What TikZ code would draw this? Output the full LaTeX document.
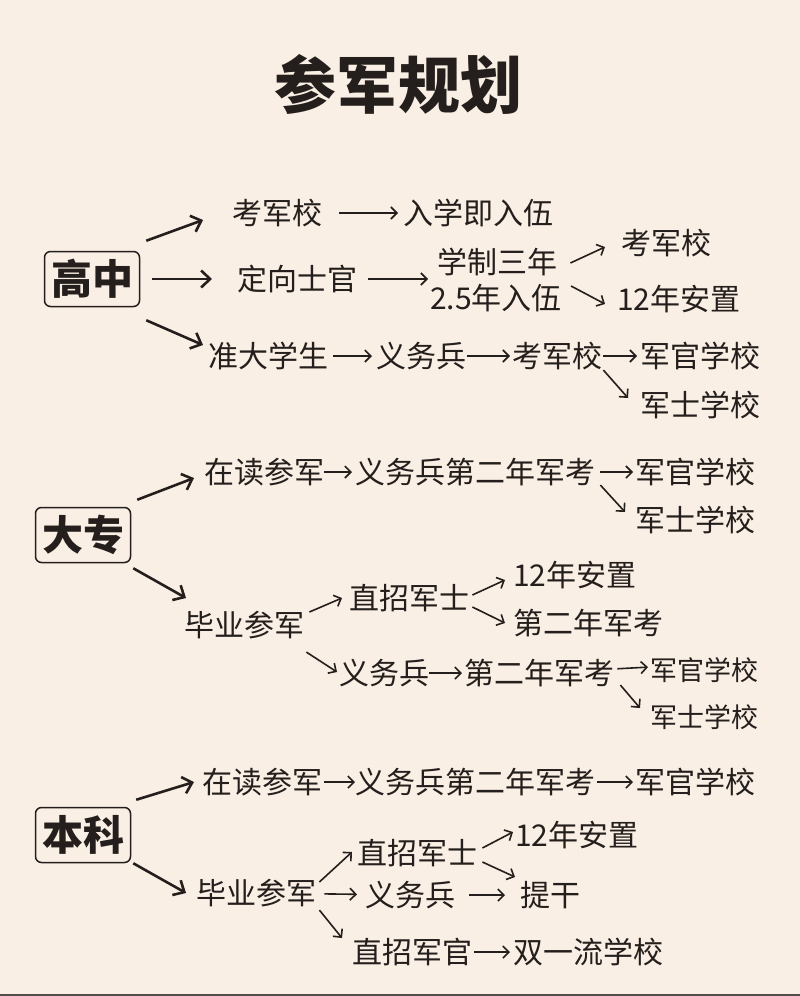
\documentclass[tikz,border=0pt]{standalone}
\usepackage{fontspec}
\usepackage{xcolor}
\usetikzlibrary{arrows.meta,positioning,calc}
\newfontfamily\cjk{Noto Sans CJK SC}
\definecolor{paper}{RGB}{250,239,229}
\definecolor{ink}{RGB}{36,31,28}

\begin{document}
\begin{tikzpicture}[
	x=1pt, y=-1pt,
	head/.style={
		draw=ink,
		line width=1.5pt,
		rounded corners=6pt,
		minimum width=95pt,
		minimum height=55pt,
		inner sep=0pt,
		text=ink,
		font=\cjk\bfseries\fontsize{41}{41}\selectfont
	},
	item/.style={
		anchor=west,
		inner sep=0pt,
		text=ink,
		font=\cjk\fontsize{30}{30}\selectfont
	},
	small/.style={
		item,
		font=\cjk\fontsize{27}{27}\selectfont
	},
	big/.style={
		-{Straight Barb[length=9pt,width=17pt]},
		line width=2.6pt,
		draw=ink
	},
	arr/.style={
		-{Straight Barb[length=6pt,width=12pt]},
		line width=1.6pt,
		draw=ink
	},
	]
	\fill[paper] (0,0) rectangle (800,996);
	\useasboundingbox (0,0) rectangle (800,996);
	\node[text=ink, inner sep=0pt, font=\cjk\bfseries\fontsize{62}{62}\selectfont] (title) at (398,84) {参军规划};
	
	% 高中
	\node[head] (gz) at (92,279) {高中};
	\node[item] (kjx) at (232,213) {考军校};
	\node[item] (rwu) at (403,213) {入学即入伍};
	\node[item] (dx) at (237,279) {定向士官};
	\node[item] (xz) at (437,262) {学制三年};
	\node[item] (wu) at (430,298) {2.5年入伍};
	\node[item] (kjx2) at (621,243) {考军校};
	\node[item] (az) at (617,299) {12年安置};
	\node[item] (zd) at (208,356) {准大学生};
	\node[item] (yw) at (376,356) {义务兵};
	\node[item] (kjx3) at (512,356) {考军校};
	\node[item] (jg) at (640,356) {军官学校};
	\node[item] (js) at (640,405) {军士学校};
	\draw[big] ([shift={(6,-10)}]gz.north east) -- ([shift={(-29,7)}]kjx.west);
	\draw[big, shorten <=12pt, shorten >=25pt] (gz) -- (dx);
	\draw[big] ([shift={(6,13)}]gz.south east) -- ([shift={(-5,-11)}]zd.west);
	\draw[arr, shorten <=17pt, shorten >=5pt] (kjx) -- (rwu);
	\draw[arr] ([xshift=11]dx.east) -- ([shift={(-2,-19)}]wu.west);
	\draw[arr] ([shift={(13,1)}]xz.east) -- ([shift={(-16,4)}]kjx2.west);
	\draw[arr] ([shift={(9,-12)}]wu.east) -- ([shift={(-12,5)}]az.west);
	\draw[arr, shorten <=5pt, shorten >=4pt] (zd) -- (yw);
	\draw[arr, shorten <=1pt, shorten >=2pt] (yw) -- (kjx3);
	\draw[arr, shorten <=1pt, shorten >=3pt] (kjx3) -- (jg);
	\draw[arr] ([xshift=1]kjx3.south east) -- ([shift={(-12,-7)}]js.west);
	
	% 大专
	\node[head] (dz) at (83,535) {大专};
	\node[item] (zd2) at (204,472) {在读参军};
	\node[item] (yk) at (355,472) {义务兵第二年军考};
	\node[item] (jg2) at (635,472) {军官学校};
	\node[item] (js2) at (635,520) {军士学校};
	\node[item] (by) at (184,625) {毕业参军};
	\node[item] (zs) at (349,598) {直招军士};
	\node[item] (az2) at (513,575) {12年安置};
	\node[item] (dk) at (513,623) {第二年军考};
	\node[item] (yw2) at (339,673) {义务兵};
	\node[item] (dk2) at (464,673) {第二年军考};
	\node[small] (jg3) at (650,670) {军官学校};
	\node[small] (js3) at (650,717) {军士学校};
	\draw[big] ([shift={(6,-7)}]dz.north east) -- ([shift={(-10,6)}]zd2.west);
	\draw[big] ([shift={(2,5)}]dz.south east) -- ([shift={(2,-27)}]by.west);
	\draw[arr, shorten >=3pt] (zd2) -- (yk);
	\draw[arr, shorten <=5pt, shorten >=2pt] (yk) -- (jg2);
	\draw[arr] ([shift={(5,-1)}]yk.south east) -- ([shift={(-10,-8)}]js2.west);
	\draw[arr] ([shift={(5,-13)}]by.east) -- ([xshift=-7]zs.west);
	\draw[arr] ([shift={(3,-3)}]zs.east) -- ([shift={(-8,5)}]az2.west);
	\draw[arr] ([shift={(3,9)}]zs.east) -- ([xshift=-8]dk.west);
	\draw[arr] ([shift={(2,13)}]by.south east) -- ([shift={(-2,-1)}]yw2.west);
	\draw[arr, shorten >=2pt] (yw2) -- (dk2);
	\draw[arr, shorten <=3pt, shorten >=2pt] (dk2) -- ([yshift=3]jg3.west);
	\draw[arr] ([shift={(6,-2)}]dk2.south east) -- ([shift={(-10,-9)}]js3.west);
	
	% 本科
	\node[head] (bk) at (83,835) {本科};
	\node[item] (zd3) at (202,782) {在读参军};
	\node[item] (yk2) at (355,782) {义务兵第二年军考};
	\node[item] (jg4) at (635,782) {军官学校};
	\node[item] (by2) at (196,893) {毕业参军};
	\node[item] (zs2) at (357,853) {直招军士};
	\node[item] (az3) at (515,835) {12年安置};
	\node[item] (tg) at (520,895) {提干};
	\node[item] (yw3) at (365,895) {义务兵};
	\node[item] (zg) at (352,952) {直招军官};
	\node[item] (sy) at (513,952) {双一流学校};
	\draw[big] ([shift={(5,-7)}]bk.north east) -- ([xshift=-8]zd3.west);
	\draw[big] ([xshift=2]bk.south east) -- ([xshift=-10]by2.west);
	\draw[arr, shorten <=2pt] (zd3) -- (yk2);
	\draw[arr, shorten <=2pt, shorten >=2pt] (yk2) -- (jg4);
	\draw[arr] ([shift={(3,-11)}]by2.east) -- ([shift={(-5,-1)}]zs2.west);
	\draw[arr] ([shift={(5,-5)}]zs2.east) -- ([shift={(-2,-3)}]az3.west);
	\draw[arr] ([shift={(5,9)}]zs2.east) -- ([shift={(-5,-18)}]tg.west);
	\draw[arr, shorten <=8pt, shorten >=8pt] (by2) -- (yw3);
	\draw[arr, shorten <=14pt, shorten >=15pt] (yw3) -- (tg);
	\draw[arr] ([shift={(3,3)}]by2.south east) -- ([shift={(-10,-14)}]zg.west);
	\draw[arr, shorten <=2pt, shorten >=3pt] (zg) -- (sy);
	
	\draw[ink!80, line width=1.5pt] (0,995) -- (800,995);
\end{tikzpicture}
\end{document}
